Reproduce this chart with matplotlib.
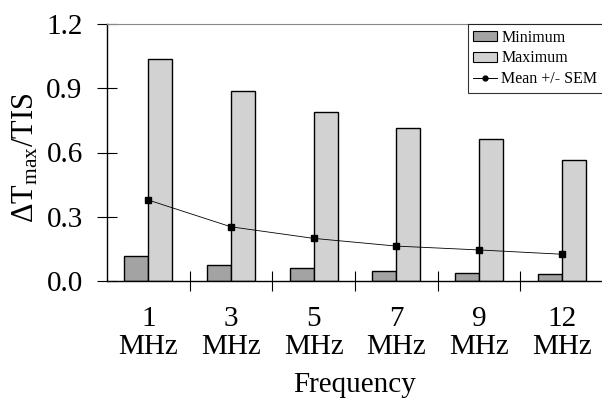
import matplotlib
matplotlib.use("Agg")
import matplotlib.pyplot as plt
import numpy as np
from matplotlib.lines import Line2D
from matplotlib.patches import Patch

# Data
frequencies = ["1\nMHz", "3\nMHz", "5\nMHz", "7\nMHz", "9\nMHz", "12\nMHz"]
minimum = [0.117, 0.073, 0.059, 0.048, 0.039, 0.033]
maximum = [1.035, 0.887, 0.790, 0.714, 0.664, 0.565]
mean = [0.378, 0.253, 0.199, 0.163, 0.145, 0.125]
sem = [0.010, 0.010, 0.009, 0.008, 0.008, 0.008]
y_ticks = [0.0, 0.3, 0.6, 0.9, 1.2]

plt.rcParams["font.family"] = ["Liberation Serif", "DejaVu Serif"]
plt.rcParams["mathtext.fontset"] = "custom"
plt.rcParams["mathtext.rm"] = "Liberation Serif"
plt.rcParams["mathtext.it"] = "Liberation Serif"

fig = plt.figure(figsize=(6.02, 4.03), dpi=100)
ax = fig.add_axes([107 / 602, 1 - 281 / 403, 496 / 602, 257 / 403])

x = np.arange(len(frequencies))
w = 0.29
ax.bar(x - w / 2, minimum, w, color="#a3a3a3", edgecolor="black", linewidth=1.0, zorder=2)
ax.bar(x + w / 2, maximum, w, color="#d2d2d2", edgecolor="black", linewidth=1.0, zorder=2)
ax.errorbar(x, mean, yerr=sem, color="black", lw=0.6, marker="s", ms=4,
            capsize=2.5, capthick=1.3, elinewidth=1.3, zorder=3)

ax.set_xlim(-0.5, len(frequencies) - 0.5)
ax.set_ylim(0, 1.2)
ax.set_yticks(y_ticks)
ax.set_yticklabels([f"{v:.1f}" for v in y_ticks], fontsize=21)
ax.set_xticks(x)
ax.set_xticklabels(frequencies, fontsize=21, linespacing=1.1)
ax.set_xticks(np.arange(0.5, len(frequencies) - 0.5), minor=True)
ax.tick_params(axis="x", which="major", length=0, pad=18)
ax.tick_params(axis="x", which="minor", direction="inout", length=14, width=0.8)
ax.tick_params(axis="y", direction="inout", length=14, width=0.8, pad=10.5)

ax.spines["right"].set_visible(False)
ax.spines["top"].set_color("#888888")
ax.spines["top"].set_linestyle((0, (2, 1)))
ax.spines["top"].set_linewidth(0.8)
ax.spines["left"].set_linewidth(1.0)
ax.spines["bottom"].set_linewidth(1.0)

ax.set_ylabel(r"$\Delta$T$_{\mathrm{max}}$/TIS", fontsize=22)
ax.yaxis.set_label_coords(-0.135, 0.48)
ax.set_xlabel("Frequency", fontsize=21, labelpad=9)

handles = [
    Patch(facecolor="#a3a3a3", edgecolor="black", linewidth=0.8),
    Patch(facecolor="#d2d2d2", edgecolor="black", linewidth=0.8),
    Line2D([0], [0], color="black", lw=0.7, marker="o", ms=3.5),
]
leg = ax.legend(handles, ["Minimum", "Maximum", "Mean +/- SEM"],
                loc="upper right", bbox_to_anchor=(1.0, 1.0), fontsize=11.5,
                frameon=True, fancybox=False, borderpad=0.35, labelspacing=0.3,
                handlelength=1.5, handleheight=0.55, handletextpad=0.25,
                borderaxespad=0.0)
leg.get_frame().set_edgecolor("black")
leg.get_frame().set_linewidth(0.8)

fig.savefig("out.png", dpi=100)
